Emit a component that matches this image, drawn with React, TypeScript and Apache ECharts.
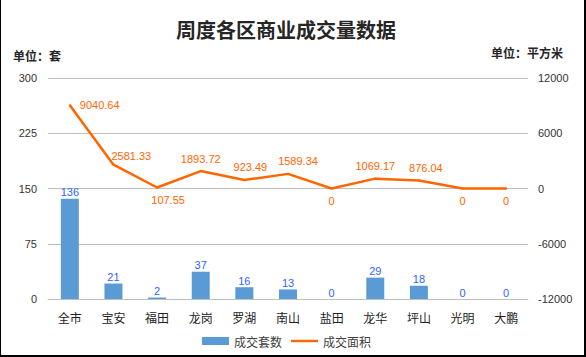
import React, { useEffect, useRef } from "react";
import * as echarts from "echarts";

const categories = ["全市", "宝安", "福田", "龙岗", "罗湖", "南山", "盐田", "龙华", "坪山", "光明", "大鹏"];
const unitsSold = [136, 21, 2, 37, 16, 13, 0, 29, 18, 0, 0];
const areaSold = [9040.64, 2581.33, 107.55, 1893.72, 923.49, 1589.34, 0, 1069.17, 876.04, 0, 0];
const areaLabelPlacement: [string, number, number][] = [
  ["right", 3, 0],
  ["topLeft", -2, 4],
  ["bottom", 11, 0],
  ["top", 0, 0],
  ["top", 6, 0],
  ["top", 10, 0],
  ["bottom", 0, 0],
  ["top", 0, 0],
  ["top", 7, 0],
  ["bottom", 0, 0],
  ["bottom", 0, 0],
];
const leftTicks = { min: 0, max: 300, interval: 75 };
const rightTicks = { min: -12000, max: 12000, interval: 6000 };

export default function App() {
  const ref = useRef<HTMLDivElement>(null);
  useEffect(() => {
    if (!ref.current) return;
    const chart = echarts.init(ref.current, undefined, { renderer: "svg" });
    const lineData = areaSold.map((v, i) => {
      const [pos, dx, dy] = areaLabelPlacement[i];
      const label: any =
        pos === "topLeft"
          ? { position: "top", align: "left", offset: [dx, dy] }
          : { position: pos, offset: [dx, dy] };
      return { value: v, label };
    });
    chart.setOption({
      animation: false,
      backgroundColor: "#fff",
      title: {
        text: "周度各区商业成交量数据",
        left: 286,
        textAlign: "center",
        top: 19,
        padding: 0,
        textStyle: {
          fontFamily: "Noto Sans CJK SC",
          fontWeight: "bold",
          fontSize: 20,
          color: "#262626",
        },
      },
      graphic: [
        {
          type: "text",
          left: 13,
          top: 49,
          style: { text: "单位：套", fontFamily: "Noto Sans CJK SC", fontSize: 12, fill: "#262626", fontWeight: "bold" },
        },
        {
          type: "text",
          right: 23,
          top: 46,
          style: { text: "单位：平方米", fontFamily: "Noto Sans CJK SC", fontSize: 12, fill: "#262626", fontWeight: "bold" },
        },
      ],
      legend: {
        left: 202,
        top: 335,
        padding: 0,
        itemWidth: 27,
        itemHeight: 8,
        itemGap: 9,
        textStyle: { fontFamily: "Noto Sans CJK SC", fontSize: 12, color: "#404040" },
        data: [
          { name: "成交套数", icon: "rect" },
          { name: "成交面积", icon: "path://M0 0L0 0M0 8L0 8M0 2.8H27V5.2H0Z" },
        ],
      },
      grid: { left: 48, right: 58, top: 78, bottom: 58 },
      xAxis: {
        type: "category",
        data: categories,
        axisLine: { show: true, lineStyle: { color: "#bfbfbf", width: 1 } },
        axisTick: { show: false },
        axisLabel: { fontFamily: "Noto Sans CJK SC", fontSize: 12, color: "#222", margin: 12 },
      },
      yAxis: [
        {
          type: "value",
          ...leftTicks,
          axisLine: { show: false },
          axisTick: { show: false },
          splitLine: { lineStyle: { color: "#bfbfbf", width: 1 } },
          axisLabel: { fontFamily: "Liberation Sans", fontSize: 11, color: "#333", margin: 11 },
        },
        {
          type: "value",
          ...rightTicks,
          position: "right",
          axisLine: { show: false },
          axisTick: { show: false },
          splitLine: { show: false },
          axisLabel: {
            fontFamily: "Liberation Sans",
            fontSize: 11,
            color: "#333",
            margin: 10,
            formatter: (v: number) => String(v),
          },
        },
      ],
      series: [
        {
          name: "成交套数",
          type: "bar",
          data: unitsSold,
          barWidth: 18,
          itemStyle: { color: "#5b9bd5" },
          label: {
            show: true,
            position: "top",
            distance: 1,
            fontFamily: "Liberation Sans",
            fontSize: 11,
            color: "#2e64fe",
          },
        },
        {
          name: "成交面积",
          type: "line",
          yAxisIndex: 1,
          data: lineData,
          symbol: "circle",
          symbolSize: 2,
          itemStyle: { color: "#ff6600" },
          lineStyle: { color: "#ff6600", width: 2.5 },
          label: {
            show: true,
            distance: 6,
            fontFamily: "Liberation Sans",
            fontSize: 11,
            color: "#ff6600",
          },
        },
      ],
    });
    return () => chart.dispose();
  }, []);
  return (
    <div style={{ position: "fixed", left: 0, top: 0, width: 586, height: 357, background: "#fff" }}>
      <div ref={ref} style={{ width: 586, height: 357 }} />
      <div
        style={{
          position: "absolute",
          left: 0,
          top: 0,
          width: 586,
          height: 357,
          boxSizing: "border-box",
          borderLeft: "1px solid #000",
          borderRight: "2px solid #000",
          borderBottom: "2px solid #000",
          pointerEvents: "none",
        }}
      />
    </div>
  );
}
